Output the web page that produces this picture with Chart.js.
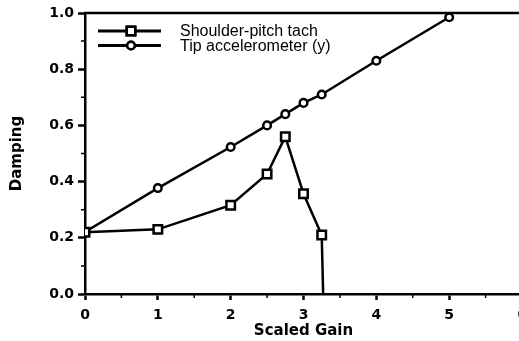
<!DOCTYPE html>
<html><head><meta charset="utf-8">
<style>html,body{margin:0;padding:0;background:#fff;overflow:hidden}canvas{display:block}</style>
<script src="https://cdn.jsdelivr.net/npm/chart.js@4/dist/chart.umd.min.js"></script>
</head><body>
<canvas id="c" width="540" height="341" style="width:540px;height:341px"></canvas>
<script>
const seriesNames = ['Shoulder-pitch tach', 'Tip accelerometer (y)'];
const gainTach = [0, 1, 2, 2.5, 2.75, 3, 3.25, 3.27];
const dampTach = [0.22, 0.23, 0.316, 0.427, 0.56, 0.357, 0.21, 0.0];
const gainTip = [0, 1, 2, 2.5, 2.75, 3, 3.25, 4, 5];
const dampTip = [0.221, 0.377, 0.523, 0.6, 0.64, 0.68, 0.71, 0.83, 0.985];
const xTicks = [0, 1, 2, 3, 4, 5, 6];
const yTicks = [0.0, 0.2, 0.4, 0.6, 0.8, 1.0];
const xMinor = [0.5, 1.5, 2.5, 3.5, 4.5, 5.5];
const yMinor = [0.1, 0.3, 0.5, 0.7, 0.9];

const tickFont = {family: 'DejaVu Sans', weight: 'bold', size: 14};
const titleFont = {family: 'DejaVu Sans', weight: 'bold', size: 15};

const extras = {
  id: 'extras',
  afterDraw(chart) {
    const ctx = chart.ctx, a = chart.chartArea;
    const xs = chart.scales.x, ys = chart.scales.y;
    ctx.save();
    ctx.strokeStyle = '#000';
    ctx.lineWidth = 2.5;
    ctx.beginPath();
    ctx.moveTo(a.left - 1, a.top);
    ctx.lineTo(chart.width, a.top);
    ctx.stroke();
    ctx.lineWidth = 1.5;
    ctx.beginPath();
    xMinor.forEach(v => { const px = xs.getPixelForValue(v); ctx.moveTo(px, a.bottom); ctx.lineTo(px, a.bottom + 4); });
    yMinor.forEach(v => { const py = ys.getPixelForValue(v); ctx.moveTo(a.left, py); ctx.lineTo(a.left - 4, py); });
    ctx.stroke();
    // legend
    chart.data.datasets.forEach((ds, i) => {
      const y = a.top + 18 + i * 14.5;
      ctx.lineWidth = 2.8;
      ctx.strokeStyle = '#000';
      ctx.beginPath();
      ctx.moveTo(a.left + 13, y);
      ctx.lineTo(a.left + 76, y);
      ctx.stroke();
      ctx.lineWidth = 2.5;
      Chart.helpers.drawPoint(ctx, {pointStyle: ds.pointStyle, radius: ds.legendRadius, borderWidth: 2.5}, a.left + 46, y);
      ctx.fillStyle = '#fff';
      ctx.fill();
      ctx.stroke();
      ctx.fillStyle = '#000';
      ctx.font = '16px "Liberation Sans", Arial, sans-serif';
      ctx.textBaseline = 'middle';
      ctx.textAlign = 'left';
      ctx.fillText(ds.label, a.left + 95, y + 1);
    });
    ctx.restore();
  }
};

new Chart(document.getElementById('c'), {
  type: 'scatter',
  data: {
    datasets: [
      {
        label: seriesNames[0],
        data: gainTach.map((g, i) => ({x: g, y: dampTach[i]})),
        showLine: true,
        borderColor: '#000', borderWidth: 2.5,
        pointStyle: 'rect',
        legendRadius: 6,
        pointRadius: gainTach.map((g, i) => i === gainTach.length - 1 ? 0 : 6),
        pointBackgroundColor: '#fff', pointBorderColor: '#000', pointBorderWidth: 2.5
      },
      {
        label: seriesNames[1],
        data: gainTip.map((g, i) => ({x: g, y: dampTip[i]})),
        showLine: true,
        borderColor: '#000', borderWidth: 2.5,
        pointStyle: 'circle',
        legendRadius: 3.8,
        pointRadius: 3.8,
        pointBackgroundColor: '#fff', pointBorderColor: '#000', pointBorderWidth: 2.5
      }
    ]
  },
  options: {
    responsive: false,
    animation: false,
    devicePixelRatio: 1,
    layout: {padding: {top: 13, right: 18, left: 0, bottom: 0}},
    plugins: {legend: {display: false}, tooltip: {enabled: false}},
    scales: {
      x: {
        type: 'linear', min: 0, max: 6,
        afterBuildTicks: s => { s.ticks = xTicks.map(v => ({value: v})); },
        afterFit: s => { s.height = 47; },
        grid: {drawOnChartArea: false, tickLength: 6, tickWidth: 2.5, tickColor: '#000'},
        border: {color: '#000', width: 2.5},
        ticks: {font: tickFont, color: '#000', padding: 7, maxRotation: 0, autoSkip: false, callback: v => String(v)},
        title: {display: true, text: 'Scaled Gain', color: '#000', font: titleFont, padding: {top: 0, bottom: 1}}
      },
      y: {
        type: 'linear', min: 0, max: 1,
        afterBuildTicks: s => { s.ticks = yTicks.map(v => ({value: v})); },
        afterFit: s => { s.width = 85; },
        grid: {drawOnChartArea: false, tickLength: 7, tickWidth: 2.5, tickColor: '#000'},
        border: {color: '#000', width: 2.5},
        ticks: {font: tickFont, color: '#000', padding: 4, autoSkip: false, callback: v => v.toFixed(1)},
        title: {display: true, text: 'Damping', color: '#000', font: titleFont, padding: {top: 8, bottom: 0}}
      }
    }
  },
  plugins: [extras]
});
</script>
</body></html>
